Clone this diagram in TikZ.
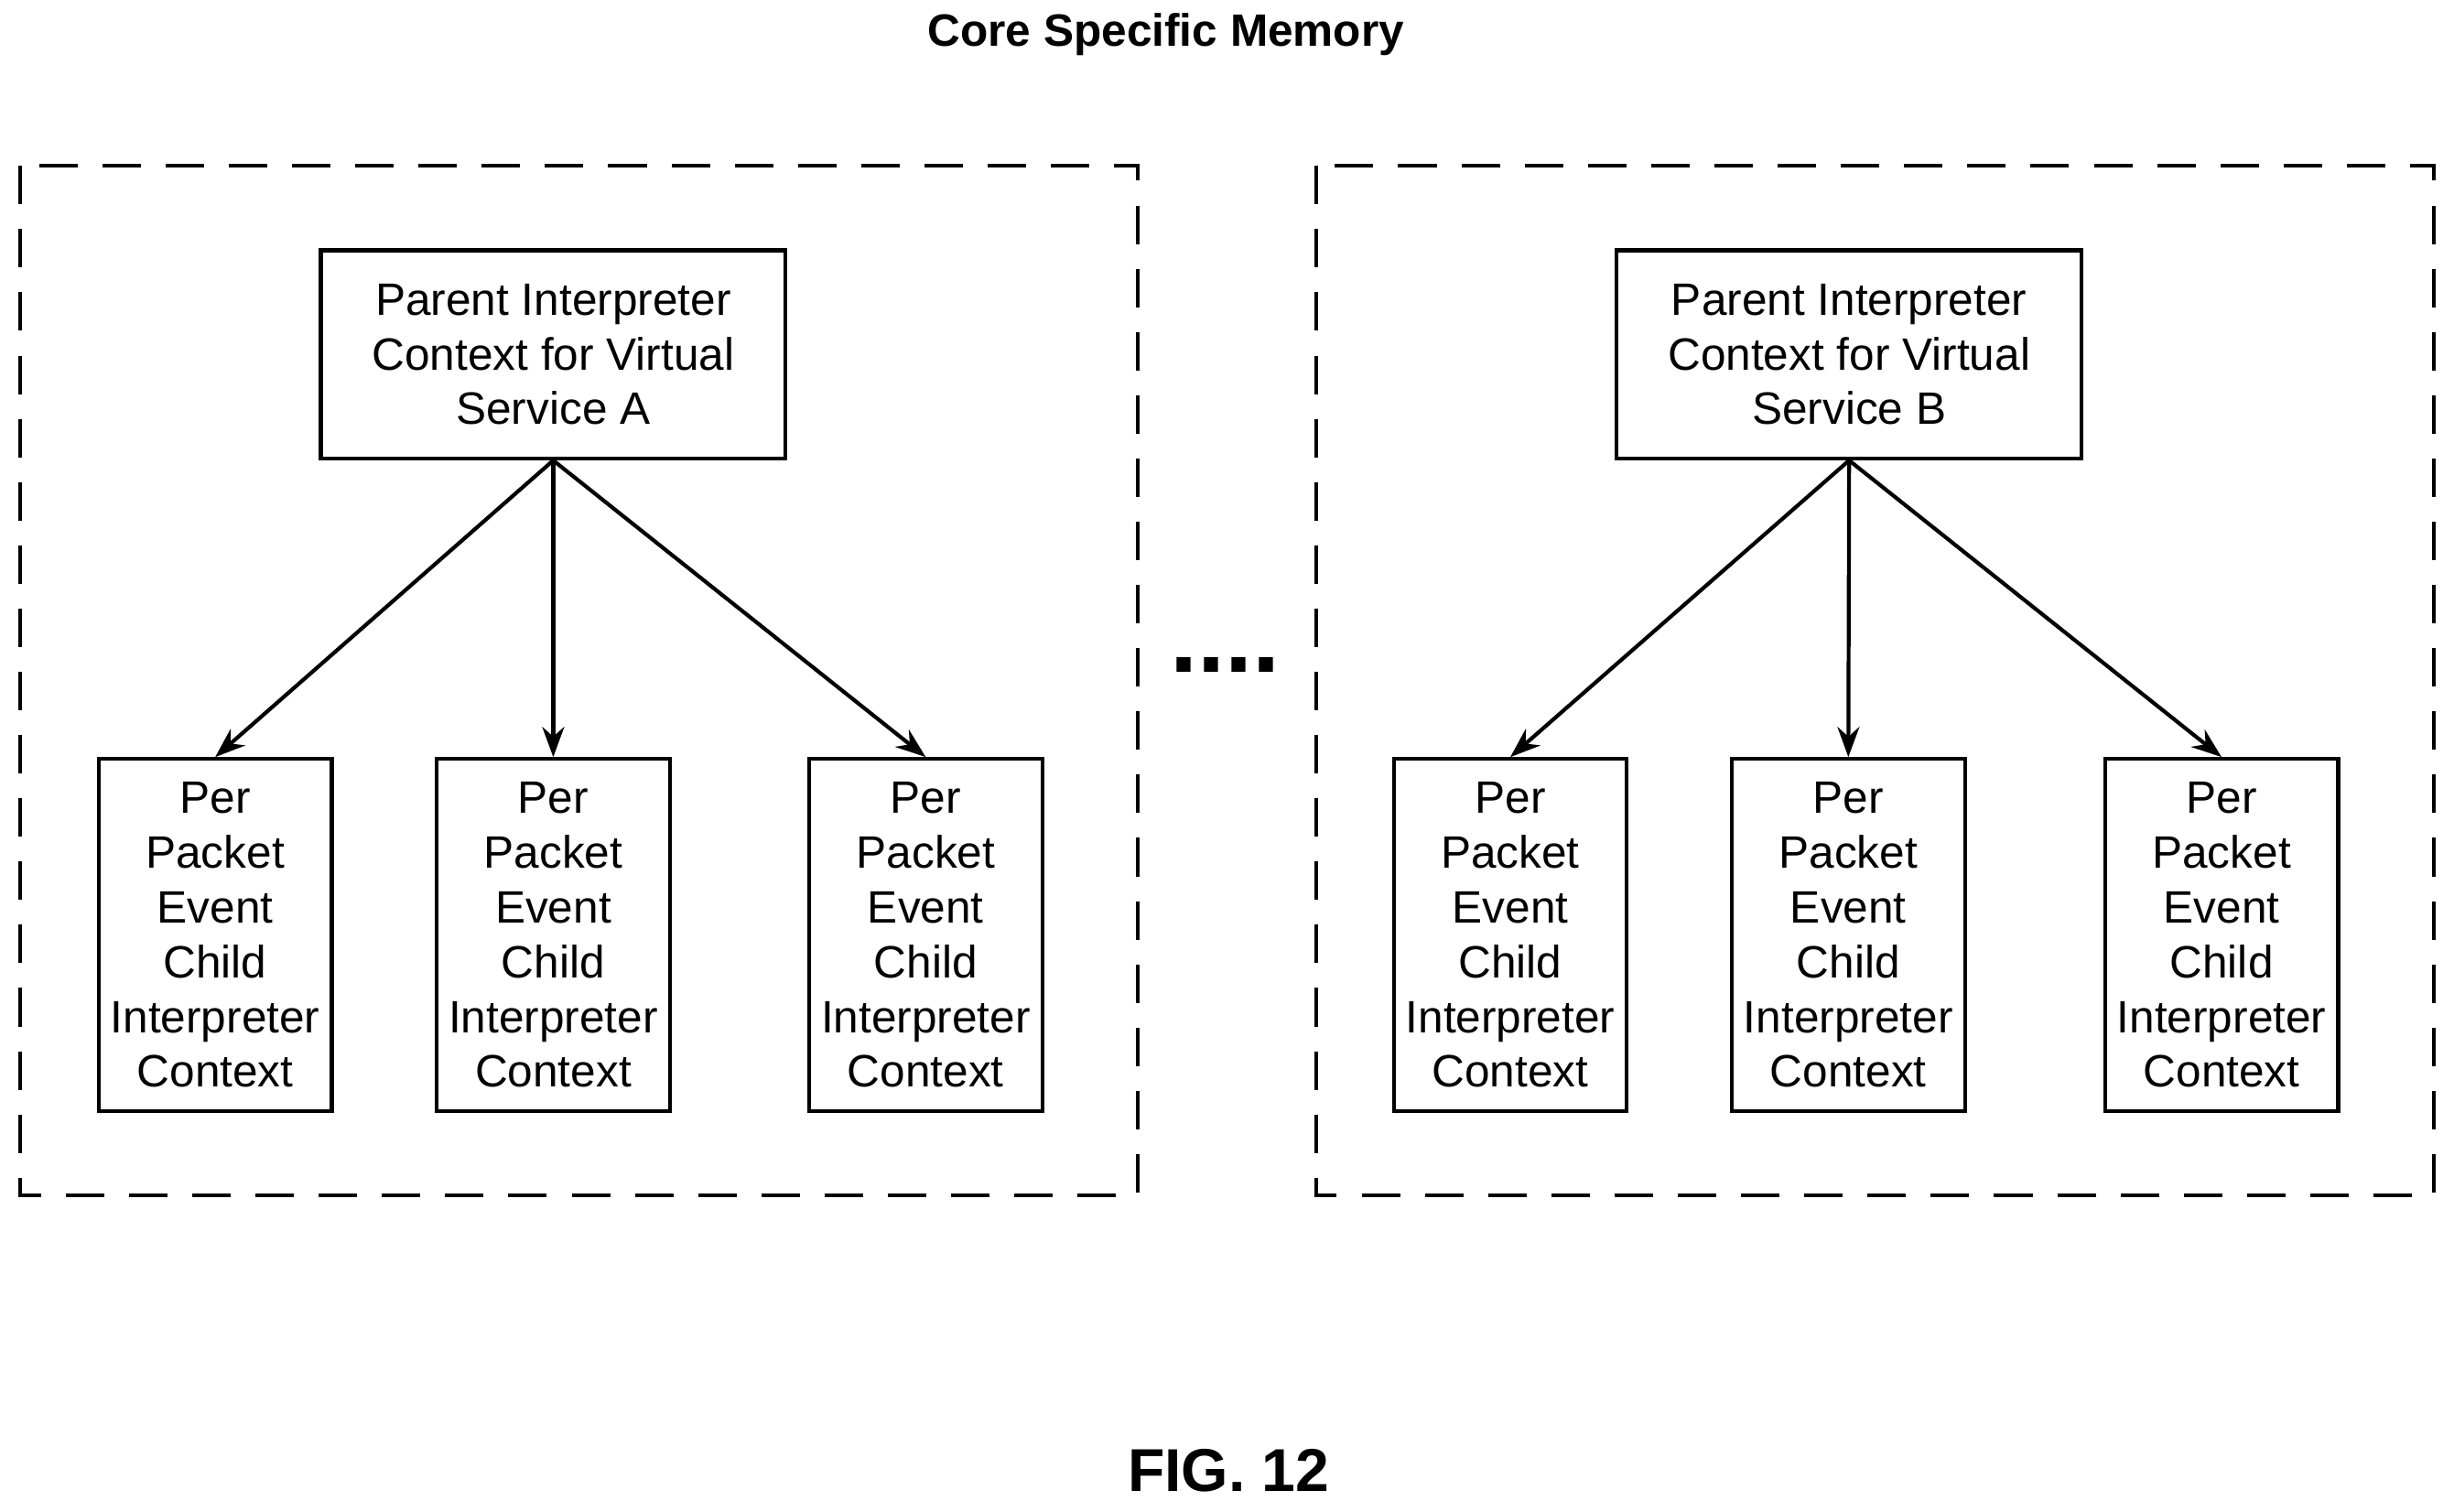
\documentclass[tikz,border=0pt]{standalone}
\usepackage{fontspec}
\setmainfont{Liberation Sans}
\usetikzlibrary{arrows.meta}
\begin{document}
\begin{tikzpicture}[x=0.02cm,y=-0.02cm,
  box/.style={draw,line width=1.4pt,inner sep=0pt,align=center,font=\fontsize{16.5}{19.9}\selectfont},
  dbox/.style={draw,line width=1.4pt,dash pattern=on 14pt off 9pt},
  arr/.style={-{Stealth[length=11pt,width=8pt]},line width=1.4pt}]
\useasboundingbox (0,0) rectangle (1568,966);
\node[font=\bfseries\fontsize{16.5}{19}\selectfont] (title) at (745,22) {Core Specific Memory};
\draw[dbox] (13,106) rectangle (727,764);
\draw[dbox] (841,106) rectangle (1555,764);
\node[box,minimum width=5.94cm,minimum height=2.66cm] (pA) at (353.5,226.5) {Parent Interpreter\\Context for Virtual\\Service A};
\node[box,minimum width=5.94cm,minimum height=2.66cm] (pB) at (1181.5,226.5) {Parent Interpreter\\Context for Virtual\\Service B};
\foreach \n/\x in {a1/137.5,a2/353.5,a3/591.5,b1/965,b2/1181,b3/1419.5}{
  \node[box,minimum width=2.98cm,minimum height=4.5cm] (\n) at (\x,597.5) {Per\\Packet\\Event\\Child\\Interpreter\\Context};
}
\foreach \c in {a1,a2,a3} \draw[arr] (pA.south) -- (\c.north);
\foreach \c in {b1,b2,b3} \draw[arr] (pB.south) -- (\c.north);
\node[font=\bfseries\fontsize{36}{36}\selectfont] (dots) at (783,425) {....};
\node[font=\bfseries\fontsize{22}{22}\selectfont] (fig) at (785,940) {FIG. 12};
\end{tikzpicture}
\end{document}
